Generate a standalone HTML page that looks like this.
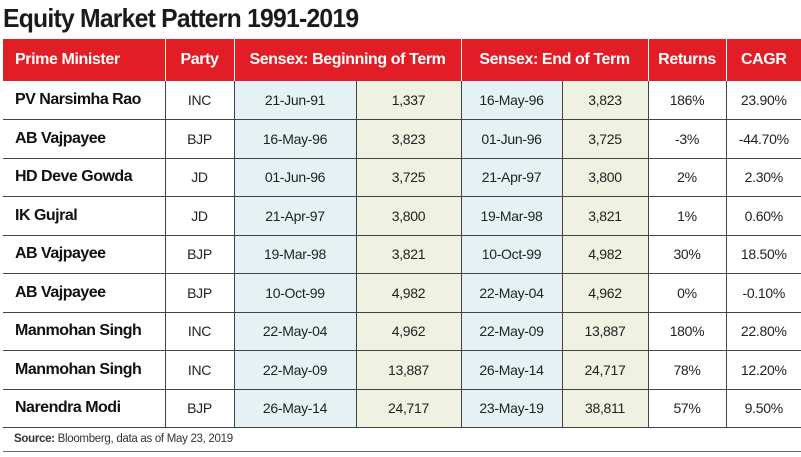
<!DOCTYPE html>
<html><head><meta charset="utf-8"><style>
body{margin:0;width:801px;height:457px;background:#fff;overflow:hidden;font-family:"Liberation Sans",sans-serif;color:#222;position:relative}
#title{position:absolute;left:3px;top:3px;font-size:26px;font-weight:bold;color:#1a1a1a;letter-spacing:-0.8px;white-space:nowrap;transform:scaleX(0.95);transform-origin:left top}
table{position:absolute;left:3px;top:39px;width:798px;border-collapse:collapse;table-layout:fixed}
th{background:#e31d25;color:#fff;font-size:16px;font-weight:bold;height:42px;padding:0;border-left:1.5px solid #fff;text-align:center;white-space:nowrap;letter-spacing:-0.4px}
th:first-child{border-left:none;text-align:left;padding-left:12px}
td{height:38.5px;box-sizing:border-box;padding:0;text-align:center;font-size:14px;border-bottom:1.5px solid #444;border-left:1.5px solid #444;white-space:nowrap;letter-spacing:-0.3px;overflow:hidden}
td:first-child{border-left:none;text-align:left;padding-left:12px;font-weight:bold;font-size:16px;color:#111;letter-spacing:-0.5px}
td.d{background:#e5f1f3}
td.v{background:#eff2e0}
#src{position:absolute;left:14px;top:433px;font-size:11.5px;color:#333;letter-spacing:-0.3px}
#rule{position:absolute;left:3px;right:0;top:451px;border-top:1.5px solid #666}
</style></head><body>
<div id="title">Equity Market Pattern 1991-2019</div>
<table>
<colgroup><col style="width:162px"><col style="width:69px"><col style="width:122px"><col style="width:105px"><col style="width:101px"><col style="width:86px"><col style="width:78px"><col style="width:75px"></colgroup>
<thead><tr>
<th>Prime Minister</th>
<th>Party</th>
<th colspan="2">Sensex: Beginning of Term</th>
<th colspan="2">Sensex: End of Term</th>
<th>Returns</th>
<th>CAGR</th>
</tr></thead>
<tbody id="tb"></tbody>
</table>
<div id="src"><b>Source:</b> Bloomberg, data as of May 23, 2019</div>
<div id="rule"></div>
<script>
const names=["PV Narsimha Rao","AB Vajpayee","HD Deve Gowda","IK Gujral","AB Vajpayee","AB Vajpayee","Manmohan Singh","Manmohan Singh","Narendra Modi"];
const parties=["INC","BJP","JD","JD","BJP","BJP","INC","INC","BJP"];
const startDates=["21-Jun-91","16-May-96","01-Jun-96","21-Apr-97","19-Mar-98","10-Oct-99","22-May-04","22-May-09","26-May-14"];
const startVals=["1,337","3,823","3,725","3,800","3,821","4,982","4,962","13,887","24,717"];
const endDates=["16-May-96","01-Jun-96","21-Apr-97","19-Mar-98","10-Oct-99","22-May-04","22-May-09","26-May-14","23-May-19"];
const endVals=["3,823","3,725","3,800","3,821","4,982","4,962","13,887","24,717","38,811"];
const returns=["186%","-3%","2%","1%","30%","0%","180%","78%","57%"];
const cagr=["23.90%","-44.70%","2.30%","0.60%","18.50%","-0.10%","22.80%","12.20%","9.50%"];
const tb=document.getElementById('tb');
const cols=[[names,'','prime-minister'],[parties,'','party'],[startDates,'d','start-date'],[startVals,'v','start-sensex'],[endDates,'d','end-date'],[endVals,'v','end-sensex'],[returns,'','returns'],[cagr,'','cagr']];
for(let i=0;i<names.length;i++){
  const tr=document.createElement('tr');
  
  
  cols.forEach(c=>{
    const td=document.createElement('td');
    if(c[1])td.className=c[1];
    td.textContent=c[0][i];
    
    
    tr.appendChild(td);
  });
  tb.appendChild(tr);
}
</script>
</body></html>
